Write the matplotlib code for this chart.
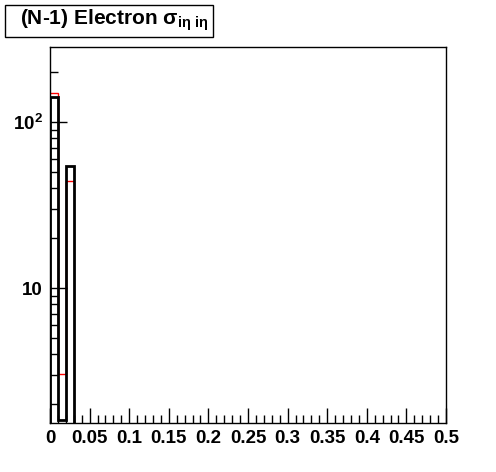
import numpy as np
import matplotlib.pyplot as plt
from matplotlib.patches import Rectangle
from matplotlib.ticker import FixedLocator, FixedFormatter, LogLocator, NullFormatter, MultipleLocator

plt.rcParams['font.family'] = ['Liberation Sans', 'DejaVu Sans']
plt.rcParams['mathtext.fontset'] = 'custom'
plt.rcParams['mathtext.rm'] = 'Liberation Sans'
plt.rcParams['mathtext.bf'] = 'Liberation Sans:bold'

# bin edges and contents
edges = [0.0, 0.01, 0.02, 0.03]
black_counts = [141, 1.6, 54]
red_counts = [150, 3.05, 44]

fig = plt.figure(figsize=(4.96, 4.72), dpi=100)
ax = fig.add_axes([50 / 496, 49 / 472, 396 / 496, 376 / 472])

# red histogram underneath
ax.stairs(red_counts, edges, color='red', lw=1, baseline=None)
# black histogram on top
ax.stairs(black_counts, edges, color='black', lw=2, baseline=0.01, fill=False)

ax.set_yscale('log')
ax.set_xlim(0, 0.5)
ax.set_ylim(1.54, 283)

ax.set_xticks(np.arange(0, 0.501, 0.05))
ax.set_xticklabels(['0', '0.05', '0.1', '0.15', '0.2', '0.25', '0.3', '0.35', '0.4', '0.45', '0.5'])
ax.xaxis.set_minor_locator(MultipleLocator(0.01))

ax.yaxis.set_major_locator(FixedLocator([10, 100]))
ax.yaxis.set_major_formatter(FixedFormatter(['10', r'10$^{\mathbf{2}}$']))
ax.yaxis.set_minor_locator(LogLocator(base=10, subs=np.arange(2, 10)))
ax.yaxis.set_minor_formatter(NullFormatter())

ax.tick_params(axis='both', which='both', direction='in', top=False, right=False)
ax.tick_params(axis='x', which='major', length=11, width=1, pad=5)
ax.tick_params(axis='x', which='minor', length=6, width=1)
ax.tick_params(axis='y', which='major', length=12, width=1, pad=5)
ax.tick_params(axis='y', which='minor', length=6, width=1)
for lbl in ax.get_xticklabels() + ax.get_yticklabels():
    lbl.set_fontweight('bold')
    lbl.set_fontsize(13.5)
for sp in ax.spines.values():
    sp.set_linewidth(1)

# title box
fig.patches.append(Rectangle((5 / 496, 1 - 37 / 472), 208 / 496, 32 / 472,
                             transform=fig.transFigure, fc='white', ec='black', lw=1))
fig.text(20 / 496, 1 - 20 / 472, r'(N-1) Electron $\mathregular{σ}_{\mathregular{iη\ iη}}$',
         fontsize=15, fontweight='bold', va='center', ha='left')

fig.savefig('out.png', dpi=100)
